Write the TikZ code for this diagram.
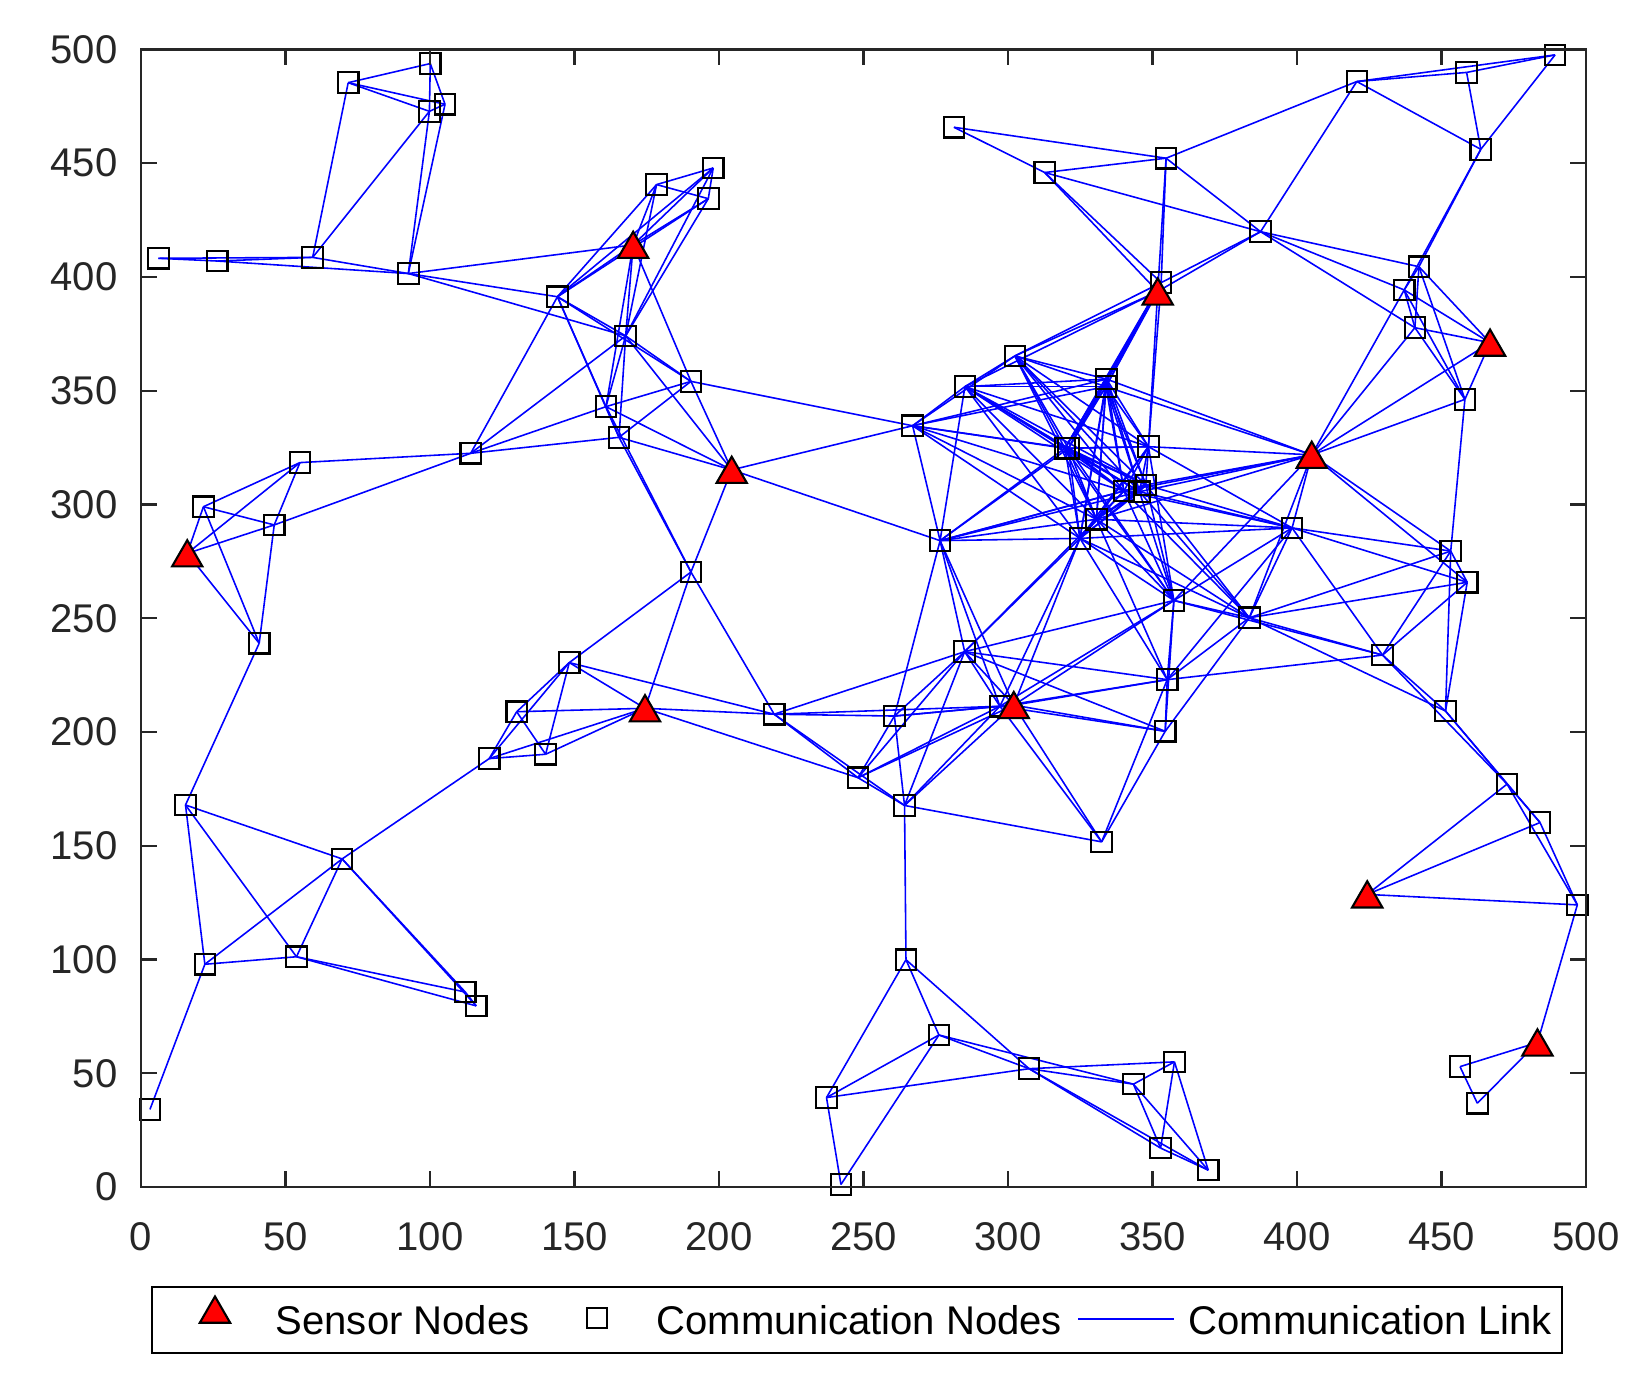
\documentclass[tikz,border=0pt]{standalone}
\usepackage{fontspec}
\setmainfont{Liberation Sans}
\usetikzlibrary{shapes.geometric}
\pgfdeclarelayer{bg}
\pgfsetlayers{bg,main}
\definecolor{axisgray}{RGB}{38,38,38}
\definecolor{linkblue}{RGB}{0,0,255}
\definecolor{sensred}{RGB}{255,0,0}
\tikzset{
  commlink/.style={linkblue, line width=0.45pt},
  commnode/.style={draw=black, line width=0.6pt, rectangle, minimum size=0.205cm, inner sep=0pt},
  sensnode/.style={draw=black, fill=sensred, line width=0.6pt, regular polygon, regular polygon sides=3, minimum size=0.35cm, inner sep=0pt},
  ticklabel/.style={font=\fontsize{11.4}{13}\selectfont, text=axisgray, inner sep=0pt},
  legtext/.style={font=\fontsize{11.4}{13}\selectfont, text=black, inner sep=0pt, anchor=west},
  axisline/.style={draw=axisgray, line width=0.6pt},
}
\begin{document}
\begin{tikzpicture}
\useasboundingbox (0,0) rectangle (16.44,13.82);
\begin{scope}[shift={(1.41,1.95)}, x=0.0289cm, y=0.02275cm]
% positions (data units)
\foreach \xx/\yy [count=\i] in {
100.1/493.8, 71.7/485.4, 99.8/472.8, 105.2/475.9, 6.0/408.2, 26.4/407.0, 59.4/408.6, 92.5/401.5, 178.4/440.6, 198.0/447.9,
196.3/434.4, 144.1/391.3, 167.7/374.1, 190.3/354.1, 160.9/343.0, 165.4/329.5, 114.1/322.5, 55.0/318.4, 21.6/299.0, 46.1/291.0,
40.9/239.0, 190.3/270.3, 148.2/230.5, 130.0/208.9, 120.5/188.3, 140.0/190.2, 219.1/207.8, 15.4/167.9, 69.6/144.2, 22.1/97.9,
53.8/101.2, 112.2/85.7, 116.0/79.6, 3.1/34.1, 281.3/465.8, 312.7/445.9, 354.7/452.2, 420.7/485.9, 458.7/489.9, 489.3/497.6,
463.6/456.1, 387.4/419.9, 353.0/397.5, 442.2/404.5, 437.1/394.3, 440.8/377.7, 458.1/346.2, 302.4/365.3, 285.1/351.8, 334.1/355.1,
333.9/351.8, 267.0/334.6, 320.9/324.7, 319.7/324.7, 348.6/325.4, 347.7/308.6, 345.5/305.6, 340.1/305.9, 330.6/293.5, 324.9/285.1,
276.5/284.1, 398.3/289.7, 357.4/257.8, 383.5/250.2, 453.2/279.5, 458.9/265.8, 285.0/235.3, 429.6/233.8, 355.1/223.0, 260.7/207.0,
297.2/211.3, 354.4/200.3, 451.4/209.2, 248.1/179.9, 264.2/167.7, 332.4/151.7, 472.7/177.1, 484.1/160.2, 497.0/124.0, 264.7/99.9,
276.1/66.8, 307.3/52.0, 357.6/55.0, 343.4/45.2, 237.2/39.3, 242.2/1.1, 352.8/17.1, 369.3/7.4, 456.4/52.9, 462.4/36.8,
170.3/414.1, 204.4/315.2, 16.0/278.5, 174.4/210.4, 351.8/393.6, 466.8/371.1, 405.1/321.8, 302.0/211.8, 424.3/128.6, 483.2/63.5}{
  \coordinate (p\i) at (\xx,\yy);
  \expandafter\xdef\csname px\i\endcsname{\xx}
  \expandafter\xdef\csname py\i\endcsname{\yy}
}
% links: every pair within communication range
\begin{pgfonlayer}{bg}
\foreach \i in {1,...,99}{
  \pgfmathtruncatemacro\jst{\i+1}
  \foreach \j in {\jst,...,100}{
    \edef\xa{\csname px\i\endcsname}\edef\ya{\csname py\i\endcsname}
    \edef\xb{\csname px\j\endcsname}\edef\yb{\csname py\j\endcsname}
    \pgfmathsetmacro\dd{veclen(\xa-\xb,\ya-\yb)}
    \ifdim\dd pt<80.2pt \draw[commlink] (p\i) -- (p\j);\fi
  }
}
\end{pgfonlayer}
% markers
\foreach \i in {1,...,90}{ \node[commnode] (m\i) at (p\i) {}; }
\foreach \i in {91,...,100}{ \node[sensnode, yshift=-0.043cm] (m\i) at (p\i) {}; }
% axes
\draw[axisline] (0,0) rectangle (500,500);
\foreach \v in {0,50,...,500}{
  \draw[axisline] (\v,0) -- ++(0,0.16cm);
  \draw[axisline] (\v,500) -- ++(0,-0.16cm);
  \draw[axisline] (0,\v) -- ++(0.16cm,0);
  \draw[axisline] (500,\v) -- ++(-0.16cm,0);
  \node[ticklabel] (xl\v) at (\v,0) [yshift=-0.50cm] {\v};
  \node[ticklabel, anchor=east] (yl\v) at (0,\v) [xshift=-0.23cm] {\v};
}
\end{scope}
% legend
\node[draw=black, line width=0.6pt, minimum width=14.10cm, minimum height=0.655cm, inner sep=0pt] (legend) at (8.57,0.62) {};
\node[sensnode] (legS) at (2.15,0.68) {};
\node[legtext] (legSt) at (2.75,0.62) {Sensor Nodes};
\node[commnode] (legC) at (5.97,0.64) {};
\node[legtext] (legCt) at (6.56,0.62) {Communication Nodes};
\coordinate (legL1) at (10.78,0.63);
\coordinate (legL2) at (11.74,0.63);
\draw[commlink] (legL1) -- (legL2);
\node[legtext] (legLt) at (11.88,0.62) {Communication Link};
\end{tikzpicture}
\end{document}
